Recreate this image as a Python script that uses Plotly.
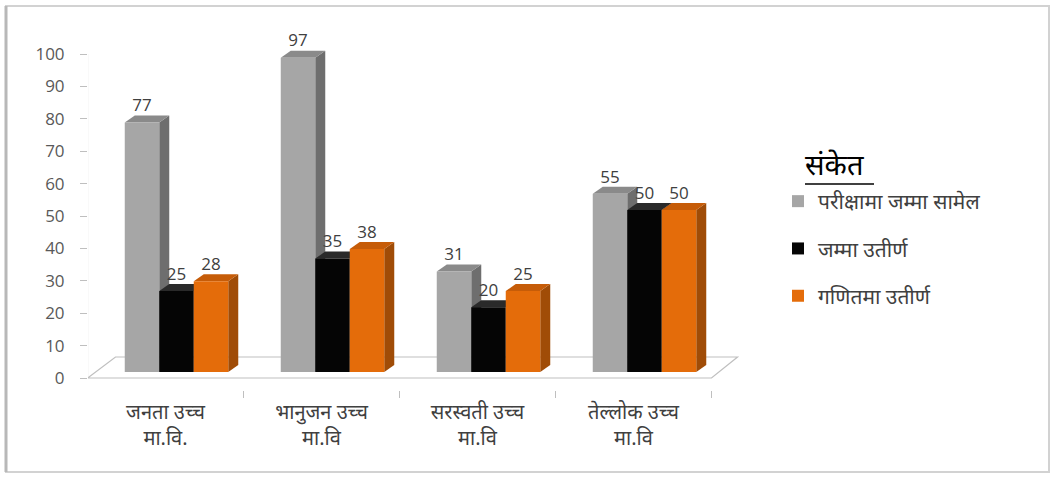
import plotly.graph_objects as go

# ---------------- data ----------------
categories = ["जनता उच्च<br>मा.वि.", "भानुजन उच्च<br>मा.वि", "सरस्वती उच्च<br>मा.वि", "तेल्लोक उच्च<br>मा.वि"]
series_names = ["परीक्षामा जम्मा सामेल", "जम्मा उतीर्ण", "गणितमा उतीर्ण"]
appeared = [77, 97, 31, 55]
passed = [25, 35, 20, 50]
math_passed = [28, 38, 25, 50]
y_ticks = [0, 10, 20, 30, 40, 50, 60, 70, 80, 90, 100]

series_values = [appeared, passed, math_passed]
front_colors = ["#A6A6A6", "#050505", "#E46C0A"]
side_colors = ["#6E6E6E", "#1C1C1C", "#A04C07"]
top_colors = ["#8A8A8A", "#2A2A2A", "#C65C08"]

W, H = 1054, 481
FONT = "Noto Sans Devanagari, Noto Sans, Lohit Devanagari, sans-serif"

# ---------------- geometry (pixel layout -> axis units) ----------------
plot_left, plot_right = 88, 745
plot_top, plot_bottom = 40, 390
px_per_unit_y = 3.24
zero_px = 378
px_per_cat = 156.0
cat0_px = 165.5

y_lo = -(plot_bottom - zero_px) / px_per_unit_y
y_hi = (zero_px - plot_top) / px_per_unit_y
x_lo = (plot_left - cat0_px) / px_per_cat
x_hi = (plot_right - cat0_px) / px_per_cat

shift_y = 6 / px_per_unit_y          # bars sit slightly behind the front plane
shift_x = 11 / px_per_cat
bar_w = 34.5 / px_per_cat
dx = 10 / px_per_cat                 # bar depth
dy = 7 / px_per_unit_y

fig = go.Figure()

shapes = []
# floor (front plane coords)
fdx, fdy = 28 / px_per_cat, 21 / px_per_unit_y
n = len(categories)
shapes.append(dict(type="path", xref="x", yref="y", layer="below",
                   path=f"M {-0.5},0 L {n-0.5},0 L {n-0.5+fdx*0.93},{fdy} L {-0.5+fdx},{fdy} Z",
                   line=dict(color="#BFBFBF", width=1.2), fillcolor="white"))
# vertical axis line
shapes.append(dict(type="line", xref="x", yref="y", layer="below",
                   x0=-0.5, x1=-0.5, y0=0, y1=100, line=dict(color="#BFBFBF", width=1.2)))

for k, (name, vals) in enumerate(zip(series_names, series_values)):
    xs = [i + (k - 1) * bar_w for i in range(n)]
    fig.add_trace(go.Bar(
        x=xs, y=vals, width=bar_w, name=name,
        marker=dict(color=front_colors[k], line=dict(width=0)),
        xaxis="x2", yaxis="y2", legendgroup=f"g{k}",
        hoverinfo="y",
    ))
    for x, v in zip(xs, vals):
        r = x + bar_w / 2
        l = x - bar_w / 2
        # side face
        shapes.append(dict(type="path", xref="x2", yref="y2", layer="below",
                           path=f"M {r},0 L {r},{v} L {r+dx},{v+dy} L {r+dx},{dy} Z",
                           fillcolor=side_colors[k], line=dict(width=0)))
        # top face
        shapes.append(dict(type="path", xref="x2", yref="y2", layer="below",
                           path=f"M {l},{v} L {r},{v} L {r+dx},{v+dy} L {l+dx},{v+dy} Z",
                           fillcolor=top_colors[k], line=dict(width=0)))
    fig.add_trace(go.Scatter(
        x=xs, y=[v + dy for v in vals], text=[str(v) for v in vals],
        mode="text", textposition="top center",
        textfont=dict(family="Open Sans, sans-serif", size=17, color="#404040"),
        xaxis="x2", yaxis="y2", showlegend=False, hoverinfo="skip", cliponaxis=False,
    ))

# outer border
def px2paper_x(p):
    return (p - plot_left) / (plot_right - plot_left)

def px2paper_y(p):
    return (plot_bottom - p) / (plot_bottom - plot_top)

shapes.append(dict(type="rect", xref="paper", yref="paper",
                   x0=px2paper_x(6), x1=px2paper_x(1049), y0=px2paper_y(472), y1=px2paper_y(6),
                   line=dict(color="#D2D2D2", width=2)))
shapes.append(dict(type="line", xref="paper", yref="paper",
                   x0=px2paper_x(6), x1=px2paper_x(6), y0=px2paper_y(472), y1=px2paper_y(6),
                   line=dict(color="#B8B8B8", width=3)))
# legend title underline
shapes.append(dict(type="line", xref="paper", yref="paper",
                   x0=px2paper_x(805), x1=px2paper_x(874), y0=px2paper_y(184), y1=px2paper_y(184),
                   line=dict(color="black", width=1.5)))

fig.update_layout(
    width=W, height=H,
    margin=dict(l=plot_left, r=W - plot_right, t=plot_top, b=H - plot_bottom, pad=0),
    paper_bgcolor="white", plot_bgcolor="rgba(0,0,0,0)",
    barmode="overlay",
    showlegend=True,
    xaxis=dict(type="linear", range=[x_lo, x_hi], tickmode="array",
               tickvals=list(range(n)), ticktext=categories,
               ticks="", showgrid=False, zeroline=False, showline=False,
               tickfont=dict(family=FONT, size=20, color="#404040"),
               minor=dict(tickmode="array", tickvals=[i - 0.5 for i in range(n + 1)],
                          ticks="outside", ticklen=7, tickcolor="#BFBFBF", tickwidth=1.2),
               ticklabelstandoff=8, fixedrange=True),
    yaxis=dict(range=[y_lo, y_hi], tickmode="array", tickvals=y_ticks,
               ticks="outside", ticklen=7, tickcolor="#BFBFBF", tickwidth=1.2,
               showgrid=False, zeroline=False, showline=False,
               tickfont=dict(family="Open Sans, sans-serif", size=17, color="#595959"),
               ticklabelstandoff=12, fixedrange=True),
    xaxis2=dict(overlaying="x", range=[x_lo - shift_x, x_hi - shift_x], visible=False),
    yaxis2=dict(overlaying="y", range=[y_lo - shift_y, y_hi - shift_y], visible=False),
    legend=dict(xref="container", yref="container", x=778 / W, y=1 - 181 / H,
                xanchor="left", yanchor="top", traceorder="grouped", tracegroupgap=17,
                font=dict(family=FONT, size=21, color="#404040"),
                bgcolor="rgba(0,0,0,0)"),
    annotations=[dict(xref="paper", yref="paper", x=px2paper_x(803), y=px2paper_y(189),
                      xanchor="left", yanchor="bottom", showarrow=False,
                      text="संकेत", font=dict(family=FONT, size=29, color="black"))],
    shapes=shapes,
)

fig.write_html("out.html")
